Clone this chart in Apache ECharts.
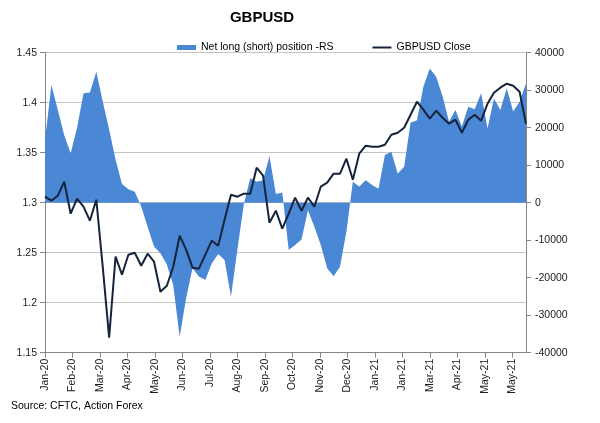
<!DOCTYPE html>
<html>
<head>
<meta charset="utf-8">
<script src="https://cdn.jsdelivr.net/npm/echarts@6/dist/echarts.min.js"></script>
<style>
html,body{margin:0;padding:0;background:#fff;}
#chart{width:600px;height:423px;}
</style>
</head>
<body>
<div id="chart"></div>
<script>
// Tick labels (one every 30 days from 7 Jan 2020)
const xTickLabels = ['Jan-20','Feb-20','Mar-20','Apr-20','May-20','Jun-20','Jul-20','Aug-20','Sep-20','Oct-20','Nov-20','Dec-20','Jan-21','Jan-21','Mar-21','Apr-21','May-21','May-21'];

// Weekly GBPUSD close (left scale)
const gbpusdClose = [
  1.306,1.302,1.307,1.321,1.289,1.304,1.296,1.282,1.303,1.236,
  1.165,1.246,1.228,1.248,1.250,1.237,1.249,1.241,1.211,1.217,
  1.236,1.267,1.253,1.235,1.234,1.248,1.262,1.257,1.283,1.308,
  1.306,1.309,1.309,1.335,1.327,1.280,1.292,1.274,1.289,1.305,
  1.292,1.305,1.296,1.316,1.320,1.329,1.329,1.344,1.323,1.349,
  1.357,1.356,1.356,1.358,1.368,1.370,1.375,1.388,1.401,1.393,
  1.384,1.392,1.385,1.379,1.383,1.370,1.383,1.388,1.382,1.399,
  1.410,1.415,1.419,1.417,1.411,1.379
];

// Weekly CFTC net long (short) position (right scale)
const netPosition = [
  16700,31400,24700,18000,13200,20000,29200,29400,34900,27000,
  19500,11500,5000,3600,2900,-1000,-6400,-11700,-13500,-16500,
  -22000,-35800,-25500,-17500,-19700,-20600,-16200,-13700,-15300,-25000,
  -12500,-500,6500,5600,6000,12400,2300,2700,-12600,-11300,
  -9800,-2000,-6400,-11300,-17500,-19600,-17100,-7700,5600,4300,
  6000,4700,3700,12700,13600,7800,9600,21300,22000,30900,
  35800,33600,28300,21600,24700,20300,25600,24900,29200,19800,
  27800,24700,30500,24300,26900,31800
];

const DAYS_PER_WEEK = 7;
const TICK_DAYS = 30;

const closeData = gbpusdClose.map((v, i) => [i * DAYS_PER_WEEK, v]);
const netData = netPosition.map((v, i) => [i * DAYS_PER_WEEK, v]);
const lastDay = (gbpusdClose.length - 1) * DAYS_PER_WEEK;

const FONT = '"Liberation Sans", Arial, sans-serif';
const axisGray = '#868686';
const gridGray = '#c4c4c4';
const labelColor = '#222';
const areaBlue = '#4a87d5';
const lineNavy = '#16243b';

const chart = echarts.init(document.getElementById('chart'), null, {renderer: 'canvas'});
chart.setOption({
  animation: false,
  backgroundColor: '#fff',
  textStyle: {fontFamily: FONT},
  title: {
    text: 'GBPUSD',
    left: 257,
    textAlign: 'center',
    top: 5,
    textStyle: {fontFamily: FONT, fontSize: 15, fontWeight: 'bold', color: '#000'}
  },
  legend: {
    left: 172,
    top: 37,
    itemGap: 38,
    itemWidth: 19,
    itemHeight: 5,
    textStyle: {fontFamily: FONT, fontSize: 10.5, color: '#000'},
    data: [
      {name: 'Net long (short) position -RS', icon: 'rect'},
      {name: 'GBPUSD Close', itemStyle: {opacity: 0, borderWidth: 0}}
    ]
  },
  graphic: [{
    type: 'text',
    left: 11,
    top: 401,
    style: {text: 'Source: CFTC, Action Forex', font: '10.5px ' + FONT, fill: '#000'}
  }],
  grid: {left: 45, right: 74, top: 52.7, bottom: 70.3, containLabel: false},
  xAxis: {
    type: 'value',
    min: 0,
    max: lastDay,
    interval: TICK_DAYS,
    axisLine: {show: true, onZero: false, lineStyle: {color: axisGray, width: 1}},
    axisTick: {show: true, length: 5, lineStyle: {color: axisGray}},
    splitLine: {show: false},
    axisLabel: {
      rotate: 90,
      margin: 6,
      fontFamily: FONT,
      fontSize: 10.5,
      color: labelColor,
      showMaxLabel: false,
      formatter: function (v) {
        if (v % TICK_DAYS !== 0) return '';
        const k = v / TICK_DAYS;
        return k < xTickLabels.length ? xTickLabels[k] : '';
      }
    }
  },
  yAxis: [{
    type: 'value',
    position: 'left',
    min: 1.15,
    max: 1.45,
    interval: 0.05,
    axisLine: {show: true, lineStyle: {color: axisGray}},
    axisTick: {show: true, length: 5, lineStyle: {color: axisGray}},
    splitLine: {show: true, lineStyle: {color: gridGray, width: 1}},
    axisLabel: {margin: 8, fontFamily: FONT, fontSize: 10.5, color: labelColor,
      formatter: v => String(Math.round(v * 100) / 100)}
  }, {
    type: 'value',
    position: 'right',
    min: -40000,
    max: 40000,
    interval: 10000,
    axisLine: {show: true, lineStyle: {color: axisGray}},
    axisTick: {show: true, length: 5, lineStyle: {color: axisGray}},
    splitLine: {show: false},
    axisLabel: {margin: 9, fontFamily: FONT, fontSize: 10.5, color: labelColor,
      formatter: v => String(Math.round(v))}
  }],
  series: [{
    name: 'Net long (short) position -RS',
    type: 'line',
    yAxisIndex: 1,
    data: netData,
    symbol: 'none',
    lineStyle: {width: 0, color: areaBlue},
    itemStyle: {color: areaBlue},
    areaStyle: {color: areaBlue, opacity: 1, origin: 0},
    z: 1
  }, {
    name: 'GBPUSD Close',
    type: 'line',
    yAxisIndex: 0,
    data: closeData,
    symbol: 'none',
    lineStyle: {width: 2, color: lineNavy},
    itemStyle: {color: lineNavy},
    z: 3
  }]
});
</script>
</body>
</html>
